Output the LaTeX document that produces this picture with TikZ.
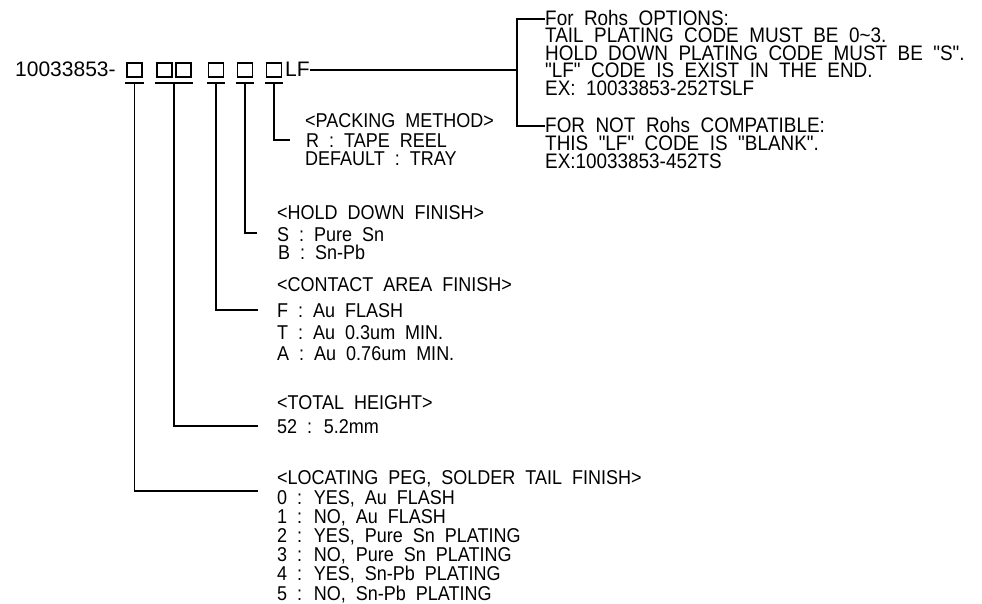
\documentclass[tikz,border=0pt]{standalone}
\usepackage{fontspec}
\setmainfont{Liberation Sans}
\newfontfamily\rajzbetu{Liberation Sans}[FakeStretch=0.9,WordSpace=2]
\usetikzlibrary{positioning,calc}
\tikzset{
  kod/.style={anchor=base west,inner sep=0pt,font=\fontsize{21}{21}\selectfont,
              text height=15pt,text depth=1pt},
  felirat/.style={anchor=base west,inner sep=0pt,font=\rajzbetu\fontsize{20}{20}\selectfont,
                  text height=14pt,text depth=2pt},
  megj/.style={anchor=base west,inner sep=0pt,font=\rajzbetu\fontsize{21}{21}\selectfont,
               text height=15pt,text depth=1.5pt},
  doboz/.style={draw,line width=1.4pt,minimum width=15pt,minimum height=14pt,inner sep=0pt},
  vonal/.style={line width=1.8pt},
}

\begin{document}
\begin{tikzpicture}[x=1pt,y=-1pt]
  \useasboundingbox (0,0) rectangle (982,604);
  % cikkszam
  \node[kod] (szam) at (15,77) {10033853-};
  \node[doboz] (d1) at (134.5,70) {};
  \node[doboz] (d2a) at (164.5,70) {};
  \node[doboz] (d2b) at (183.5,70) {};
  \node[doboz] (d3) at (216,70) {};
  \node[doboz] (d4) at (245,70) {};
  \node[doboz] (d5) at (274,70) {};
  \node[kod] (lf) at (285,77) {LF};
  \draw[vonal] ($(d1.south west)+(-1,5)$) -- ($(d1.south east)+(1,5)$);
  \draw[vonal] ($(d2a.south west)+(-1,5)$) -- ($(d2b.south east)+(1,5)$);
  \draw[vonal] ($(d3.south west)+(-1,5)$) -- ($(d3.south east)+(1,5)$);
  \draw[vonal] ($(d4.south west)+(-1,5)$) -- ($(d4.south east)+(1,5)$);
  \draw[vonal] ($(d5.south west)+(-1,5)$) -- ($(d5.south east)+(1,5)$);
  \coordinate (a1) at ($(d1.south)+(0,5)$);
  \coordinate (a2) at (174,82);
  \coordinate (a3) at ($(d3.south)+(0,5)$);
  \coordinate (a4) at ($(d4.south)+(0,5)$);
  \coordinate (a5) at ($(d5.south)+(0,5)$);

  % csomagolas
  \node[felirat] (csom) at (305,128) {<PACKING METHOD>};
  \node[felirat] (csomr) at (306,148) {R : TAPE REEL};
  \node[felirat] (csomd) at (305,166) {DEFAULT : TRAY};
  % rogzito lab
  \node[felirat] (lab) at (277,219) {<HOLD DOWN FINISH>};
  \node[felirat] (labs) at (277,241) {S : Pure Sn};
  \node[felirat] (labb) at (278,259) {B : Sn-Pb};
  % erintkezo felulet
  \node[felirat] (erint) at (277,291) {<CONTACT AREA FINISH>};
  \node[felirat] (erintf) at (277,317) {F : Au FLASH};
  \node[felirat] (erintt) at (277,339) {T : Au 0.3um MIN.};
  \node[felirat] (erinta) at (277,360) {A : Au 0.76um MIN.};
  % magassag
  \node[felirat] (mag) at (277,409) {<TOTAL HEIGHT>};
  \node[felirat] (mag52) at (277,433) {52 : 5.2mm};
  % forraszfarok
  \node[felirat] (farok) at (277,484) {<LOCATING PEG, SOLDER TAIL FINISH>};
  \foreach \sor [count=\i from 0] in {{0 : YES, Au FLASH},{1 : NO, Au FLASH},
      {2 : YES, Pure Sn PLATING},{3 : NO, Pure Sn PLATING},
      {4 : YES, Sn-Pb PLATING},{5 : NO, Sn-Pb PLATING}}
    \node[felirat] (farok\i) at (277,504+19.2*\i) {\sor};

  \coordinate (v1) at (258,491);
  \coordinate (v2) at (258,426);
  \coordinate (v3) at (258,310);
  \coordinate (v4) at (257,233);
  \coordinate (v5) at (290,140);
  \draw[vonal] (a1) |- (v1);
  \draw[vonal] (a2) |- (v2);
  \draw[vonal] (a3) |- (v3);
  \draw[vonal] (a4) |- (v4);
  \draw[vonal] (a5) |- (v5);

  % Rohs megjegyzesek
  \node[megj] (rohs) at (545,25.5) {For Rohs OPTIONS:};
  \node[megj] (rohs2) at (545,43) {TAIL PLATING CODE MUST BE 0\textasciitilde3.};
  \node[megj] (rohs3) at (545,60.5) {HOLD DOWN PLATING CODE MUST BE "S".};
  \node[megj] (rohs4) at (545,78) {"LF" CODE IS EXIST IN THE END.};
  \node[megj] (rohs5) at (545,95.5) {EX: 10033853-252TSLF};
  \node[megj] (nrohs) at (545,132.5) {FOR NOT Rohs COMPATIBLE:};
  \node[megj] (nrohs2) at (545,150.5) {THIS "LF" CODE IS "BLANK".};
  \node[megj] (nrohs3) at (545,168.5) {EX:10033853-452TS};
  \coordinate (elag) at (517,70);
  \draw[vonal] (lf.east) -- (elag);
  \draw[vonal] (rohs.west) -| (elag) |- (nrohs.west);
\end{tikzpicture}
\end{document}
